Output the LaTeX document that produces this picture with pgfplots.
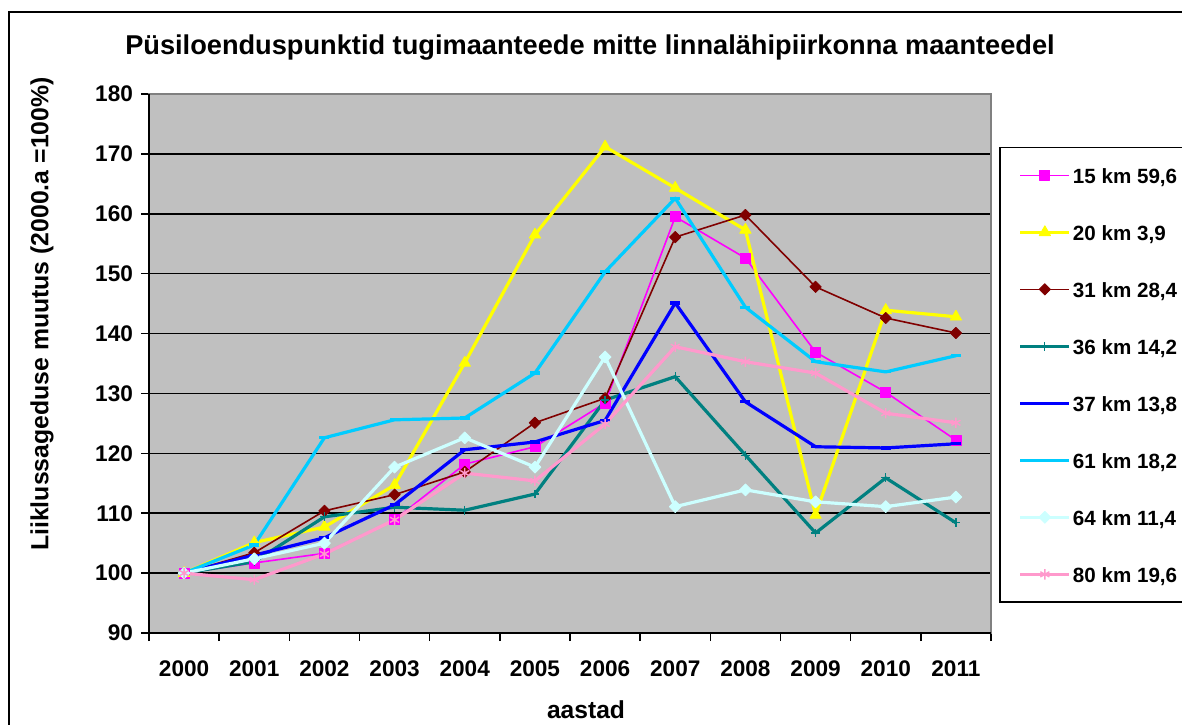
\documentclass[border=0pt]{standalone}
\usepackage{fontspec}
\setmainfont{Liberation Sans}
\usepackage{pgfplots}
\usepackage{pgfplotstable}
\pgfplotsset{compat=1.18}
\definecolor{cMag}{RGB}{255,0,255}
\definecolor{cYel}{RGB}{255,255,0}
\definecolor{cDred}{RGB}{128,0,0}
\definecolor{cTeal}{RGB}{0,128,128}
\definecolor{cBlue}{RGB}{0,0,255}
\definecolor{cSky}{RGB}{0,204,255}
\definecolor{cLcyan}{RGB}{204,255,255}
\definecolor{cPink}{RGB}{255,153,204}
\definecolor{cBg}{RGB}{192,192,192}
\pgfplotstableread{
x a b c d e f g h
0 100 100 100 100 100 100 100 100
1 101.7 105.1 103.4 101.9 103.0 104.7 102.4 98.9
2 103.3 107.7 110.4 109.4 105.9 122.6 105.0 103.2
3 108.9 114.7 113.1 111.0 111.4 125.6 117.7 108.9
4 118.2 135.1 116.9 110.5 120.6 125.9 122.6 116.7
5 121.1 156.5 125.1 113.2 121.9 133.4 117.7 115.4
6 128.4 171.2 129.2 128.9 125.5 150.3 136.1 124.9
7 159.5 164.3 156.1 132.8 145.1 162.6 111.1 137.8
8 152.6 157.3 159.8 119.7 128.6 144.4 113.9 135.3
9 136.9 109.7 147.8 106.7 121.1 135.3 111.9 133.4
10 130.2 143.9 142.6 115.9 120.9 133.6 111.1 126.7
11 122.2 142.8 140.1 108.4 121.6 136.3 112.7 125.1
}\data
\newcommand{\tf}{\bfseries\fontsize{11.3}{13}\selectfont}
\newcommand{\lf}{\bfseries\fontsize{10.3}{12}\selectfont}
\begin{document}
\begin{tikzpicture}
\useasboundingbox (0,0) rectangle (591pt,-362pt);
\draw[line width=0.75pt] (4.5pt,-6pt) rectangle (620pt,-400pt);
\begin{axis}[
  at={(74.5pt,-47pt)}, anchor=north west,
  width=421pt, height=269.5pt, scale only axis,
  xmin=-0.5, xmax=11.5, ymin=90, ymax=180,
  xtick={-0.5,0.5,...,11.5}, xticklabels={},
  extra x ticks={0,1,...,11},
  extra x tick labels={2000,2001,2002,2003,2004,2005,2006,2007,2008,2009,2010,2011},
  extra x tick style={major tick length=0pt, tick style={draw=none}},
  ytick={90,100,...,180},
  xtick pos=bottom, ytick pos=left,
  tick align=outside,
  major tick length=4pt,
  tick style={black, line width=0.75pt},
  /pgf/number format/assume math mode=true,
  ticklabel style={font=\tf},
  xticklabel style={yshift=-10.5pt},
  yticklabel style={xshift=-0.5pt},
  ymajorgrids,
  y grid style={black, line width=0.75pt},
  axis background/.style={fill=cBg},
  axis line style={draw=gray, line width=0.75pt},
  legend cell align=left,
  legend image code/.code={\draw[mark repeat=2,mark phase=2] plot coordinates {(0pt,0pt) (12.25pt,0pt) (24.5pt,0pt)};},
  legend style={at={(1.0095,0.9017)}, anchor=north west, draw=black, line width=0.75pt, fill=white,
    font=\lf, inner xsep=9.5pt, inner ysep=9.8pt, row sep=20.5pt,
    nodes={inner sep=0pt, text height=8pt, text depth=0pt},
    /tikz/every odd column/.append style={column sep=1pt}},
  every axis plot/.append style={line join=round},
  after end axis/.code={
    \draw[black, line width=0.75pt] (rel axis cs:0,1) -- (rel axis cs:0,0) -- (rel axis cs:1,0);
  },
]
\addplot[cMag, line width=0.8pt, mark=square*, mark size=2.5pt, mark options={solid, fill=cMag, line width=0.4pt}] table[x=x,y=a] {\data};
\addlegendentry{15 km 59,6}
\addplot[cYel, line width=1.6pt, mark=triangle*, mark size=3.3pt, mark options={solid, fill=cYel, line width=0.4pt}] table[x=x,y=b] {\data};
\addlegendentry{20 km 3,9}
\addplot[cDred, line width=0.8pt, mark=square*, mark size=2pt, mark options={solid, fill=cDred, rotate=45, line width=0.4pt}] table[x=x,y=c] {\data};
\addlegendentry{31 km 28,4}
\addplot[cTeal, line width=1.6pt, mark=+, mark size=2.2pt, mark options={solid, line width=0.6pt}] table[x=x,y=d] {\data};
\addlegendentry{36 km 14,2}
\addplot[cBlue, line width=1.6pt, mark=-, mark size=2.5pt, mark options={solid, line width=1.6pt}] table[x=x,y=e] {\data};
\addlegendentry{37 km 13,8}
\addplot[cSky, line width=1.6pt, mark=-, mark size=2.5pt, mark options={solid, line width=1.6pt}] table[x=x,y=f] {\data};
\addlegendentry{61 km 18,2}
\addplot[cLcyan, line width=1.6pt, mark=square*, mark size=2.1pt, mark options={solid, fill=cLcyan, rotate=45, line width=0.4pt}] table[x=x,y=g] {\data};
\addlegendentry{64 km 11,4}
\addplot[cPink, line width=1.6pt, mark=asterisk, mark size=2.6pt, mark options={solid, line width=0.7pt}] table[x=x,y=h] {\data};
\addlegendentry{80 km 19,6}
\end{axis}
\node[font=\bfseries\fontsize{13.6}{16}\selectfont] at (295pt,-24pt) {Püsiloenduspunktid tugimaanteede mitte linnalähipiirkonna maanteedel};
\node[rotate=90, font=\bfseries\fontsize{12.4}{14}\selectfont] at (21pt,-157pt) {Liiklussageduse muutus (2000.a =100\%)};
\node[font=\bfseries\fontsize{12.3}{14}\selectfont] at (293pt,-355pt) {aastad};
\end{tikzpicture}
\end{document}
